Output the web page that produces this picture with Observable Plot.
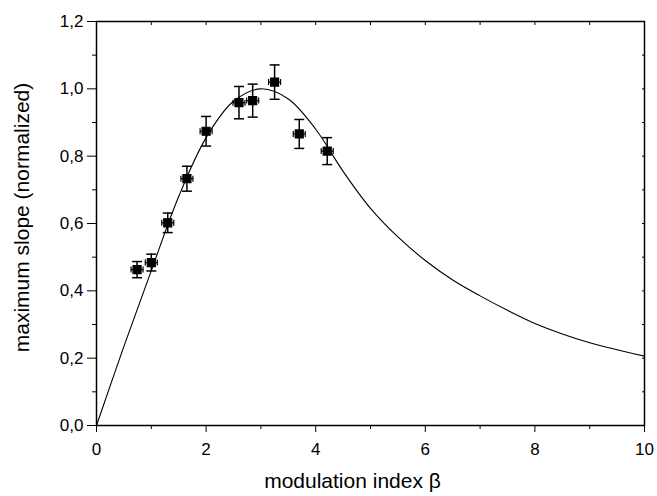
<!DOCTYPE html>
<html>
<head>
<meta charset="utf-8">
<script src="https://cdn.jsdelivr.net/npm/d3@7"></script>
<script src="https://cdn.jsdelivr.net/npm/@observablehq/plot@0.6"></script>
<style>
  html, body { margin: 0; padding: 0; background: #fff; }
  svg { display: block; }
</style>
</head>
<body>
<div id="chart"></div>
<script>
// Measured points (modulation index, normalized max slope, vertical error)
const beta = [0.74, 1.00, 1.30, 1.65, 2.00, 2.60, 2.85, 3.25, 3.70, 4.21];
const slope = [0.463, 0.484, 0.602, 0.733, 0.874, 0.959, 0.965, 1.020, 0.866, 0.815];
const slopeErr = [0.024, 0.025, 0.029, 0.037, 0.044, 0.048, 0.049, 0.051, 0.043, 0.040];

// Theory curve
const curveBeta = [0, 0.5, 1.0, 1.5, 2.0, 2.5, 3.0, 3.5, 4.0, 4.5, 5.0, 5.5, 6.0, 6.5, 7.0, 7.5, 8.0, 8.5, 9.0, 9.5, 10];
const curveSlope = [0, 0.235, 0.46, 0.68, 0.855, 0.963, 1.0, 0.97, 0.88, 0.755, 0.645, 0.56, 0.49, 0.432, 0.385, 0.342, 0.303, 0.272, 0.246, 0.225, 0.206];

// Axis ticks
const xTicks = [0, 2, 4, 6, 8, 10];
const xMinorTicks = [1, 3, 5, 7, 9];
const xAllTicks = [0, 1, 2, 3, 4, 5, 6, 7, 8, 9, 10];
const yTicks = [0, 0.2, 0.4, 0.6, 0.8, 1.0, 1.2];
const yMinorTicks = [0.1, 0.3, 0.5, 0.7, 0.9, 1.1];
const yAllTicks = [0, 0.1, 0.2, 0.3, 0.4, 0.5, 0.6, 0.7, 0.8, 0.9, 1.0, 1.1, 1.2];

const points = beta.map((b, i) => ({x: b, y: slope[i], e: slopeErr[i]}));
const curve = curveBeta.map((b, i) => ({x: b, y: curveSlope[i]}));

// custom symbols (pixel-sized)
const markerSymbol = {
  draw(ctx) {
    ctx.moveTo(-4, -4); ctx.lineTo(4, -4); ctx.lineTo(4, 4); ctx.lineTo(-4, 4); ctx.closePath();
    ctx.moveTo(-6, 0); ctx.lineTo(6, 0);
    ctx.moveTo(-6, -3); ctx.lineTo(-6, 3);
    ctx.moveTo(6, -3); ctx.lineTo(6, 3);
  }
};
const capSymbol = {
  draw(ctx) { ctx.moveTo(-5, 0); ctx.lineTo(5, 0); }
};

const fmt = d => d.toFixed(1).replace(".", ",");

const chart = Plot.plot({
  width: 657,
  height: 496,
  marginLeft: 96,
  marginRight: 13,
  marginTop: 21,
  marginBottom: 71,
  style: {fontFamily: "'Liberation Sans', Arial, sans-serif", fontSize: "17px", color: "#000", background: "#fff"},
  x: {domain: [0, 10]},
  y: {domain: [0, 1.2]},
  marks: [
    Plot.axisX({ticks: xTicks, tickSize: 7, tickPadding: 10, tickFormat: d => String(d), label: null, fontSize: 17}),
    Plot.axisX({ticks: xMinorTicks, tickSize: 4, tickFormat: () => "", label: null}),
    Plot.axisX({anchor: "top", ticks: xAllTicks, tickSize: -3, tickFormat: () => "", label: null}),
    Plot.axisY({ticks: yTicks, tickSize: 9, tickPadding: 4, tickFormat: fmt, label: null, fontSize: 17}),
    Plot.axisY({ticks: yMinorTicks, tickSize: 4, tickFormat: () => "", label: null}),
    Plot.axisY({anchor: "right", ticks: yAllTicks, tickSize: -3, tickFormat: () => "", label: null}),
    Plot.frame({stroke: "#000", strokeWidth: 1.5}),
    Plot.text(["modulation index β"], {frameAnchor: "bottom", lineAnchor: "middle", textAnchor: "middle", dy: 56, dx: -18, fontSize: 21, fill: "#000"}),
    Plot.text(["maximum slope (normalized)"], {frameAnchor: "left", textAnchor: "middle", lineAnchor: "middle", dx: -74, dy: -6, rotate: -90, fontSize: 21, fill: "#000"}),
    Plot.line(curve, {x: "x", y: "y", curve: "catmull-rom", stroke: "#000", strokeWidth: 1.1}),
    Plot.ruleX(points, {x: "x", y1: d => d.y - d.e, y2: d => d.y + d.e, stroke: "#000", strokeWidth: 1.5}),
    Plot.dot(points, {x: "x", y: d => d.y + d.e, symbol: capSymbol, stroke: "#000", strokeWidth: 1.5, r: 5}),
    Plot.dot(points, {x: "x", y: d => d.y - d.e, symbol: capSymbol, stroke: "#000", strokeWidth: 1.5, r: 5}),
    Plot.dot(points, {x: "x", y: "y", symbol: markerSymbol, fill: "#000", stroke: "#000", strokeWidth: 1.2, r: 5})
  ]
});
document.getElementById("chart").appendChild(chart);
</script>
</body>
</html>
